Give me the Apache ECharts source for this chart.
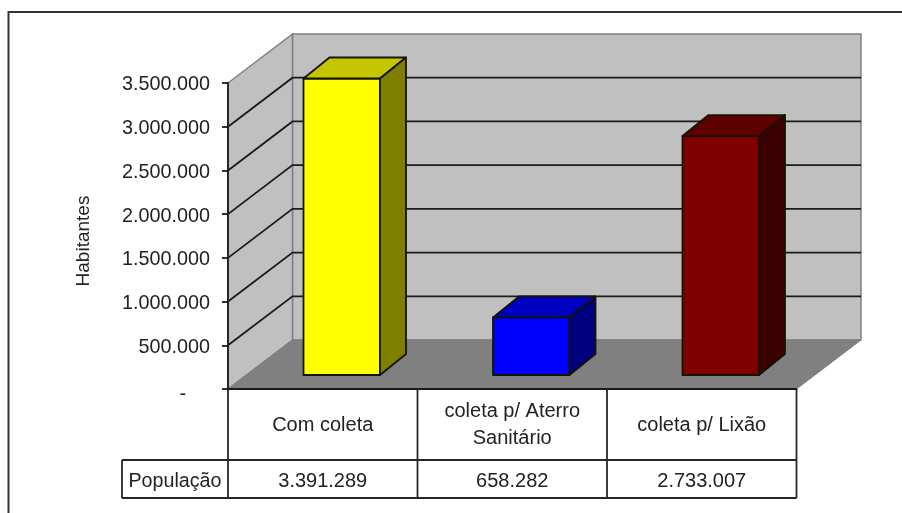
<!DOCTYPE html>
<html>
<head>
<meta charset="utf-8">
<style>html,body{margin:0;padding:0;background:#fff}#c{width:902px;height:513px}</style>
<script src="https://cdn.jsdelivr.net/npm/echarts@6/dist/echarts.min.js"></script>
</head>
<body>
<div id="c"></div>
<script>
var categories = ['Com coleta', 'coleta p/ Aterro\nSanitário', 'coleta p/ Lixão'];
var values = [3391289, 658282, 2733007];
var tableRowLabel = 'População';
var axisTitle = 'Habitantes';
var frontColors = ['#ffff00', '#0000ff', '#800000'];
var topColors = ['#c6c600', '#0000c0', '#5e0000'];
var sideColors = ['#808000', '#000080', '#3c0000'];
var tickValues = [0, 500000, 1000000, 1500000, 2000000, 2500000, 3000000, 3500000];

var FONT = '"Liberation Sans", Arial, sans-serif';
var TEXT = '#222222';
var INK = '#1a1a1a';
var FS = 20;
var DEPTH = [64.5, -49];
var GAP = [19, -14];
var BAR = [26, -21];
var BAR_W = 76.5;
var ROW1 = 71, ROW2 = 109, HEAD = 106;

function fmt(v) { return String(v).replace(/\B(?=(\d{3})+$)/g, '.'); }

function renderShell(params, api) {
  var r = params.coordSys, b = r.y + r.height, x0 = r.x, x1 = r.x + r.width;
  var dx = DEPTH[0], dy = DEPTH[1], c = [];
  c.push({ type: 'polygon', shape: { points: [[x0 + dx, r.y + dy], [x1 + dx, r.y + dy], [x1 + dx, b + dy], [x0 + dx, b + dy]] },
    style: { fill: '#c0c0c0', stroke: '#808080', lineWidth: 1.5 } });
  c.push({ type: 'polygon', shape: { points: [[x0, r.y], [x0 + dx, r.y + dy], [x0 + dx, b + dy], [x0, b]] },
    style: { fill: '#c0c0c0', stroke: '#808080', lineWidth: 1.5 } });
  c.push({ type: 'polygon', shape: { points: [[x0, b], [x0 + dx, b + dy], [x1 + dx, b + dy], [x1, b]] },
    style: { fill: '#808080', stroke: '#808080', lineWidth: 1 } });
  tickValues.forEach(function (t) {
    if (t === 0 || t === tickValues[tickValues.length - 1]) return;
    var y = api.coord([0, t])[1];
    c.push({ type: 'polyline', shape: { points: [[x0, y], [x0 + dx, y + dy], [x1 + dx, y + dy]] },
      style: { fill: 'none', stroke: INK, lineWidth: 1.8 } });
  });
  return { type: 'group', children: c };
}

function renderBar(params, api) {
  var i = api.value(0);
  var cx = api.coord([i, 0])[0] + GAP[0];
  var yb = api.coord([i, 0])[1] + GAP[1];
  var yt = api.coord([i, api.value(1)])[1] + GAP[1];
  var l = cx - BAR_W / 2, w = BAR_W, dx = BAR[0], dy = BAR[1];
  var line = { stroke: '#141400', lineWidth: 1.8, lineJoin: 'round' };
  function st(fill) { return Object.assign({ fill: fill }, line); }
  return { type: 'group', children: [
    { type: 'polygon', shape: { points: [[l, yt], [l + w, yt], [l + w, yb], [l, yb]] }, style: st(frontColors[i]) },
    { type: 'polygon', shape: { points: [[l, yt], [l + dx, yt + dy], [l + w + dx, yt + dy], [l + w, yt]] }, style: st(topColors[i]) },
    { type: 'polygon', shape: { points: [[l + w, yt], [l + w + dx, yt + dy], [l + w + dx, yb + dy], [l + w, yb]] }, style: st(sideColors[i]) }
  ] };
}

function renderTable(params, api) {
  var r = params.coordSys, b = r.y + r.height, x0 = r.x, x1 = r.x + r.width;
  var w = r.width / categories.length, c = [];
  var y1 = b + ROW1, y2 = b + ROW2;
  var ls = { stroke: '#262626', lineWidth: 1.8, fill: 'none' };
  c.push({ type: 'polyline', shape: { points: [[x0 - HEAD, y1], [x1, y1]] }, style: ls });
  c.push({ type: 'polyline', shape: { points: [[x0 - HEAD, y2], [x1, y2]] }, style: ls });
  c.push({ type: 'polyline', shape: { points: [[x0 - HEAD, y1], [x0 - HEAD, y2]] }, style: ls });
  for (var k = 0; k <= categories.length; k++) {
    c.push({ type: 'polyline', shape: { points: [[x0 + w * k, b], [x0 + w * k, y2]] }, style: ls });
  }
  c.push({ type: 'text', style: { text: tableRowLabel, x: x0 - HEAD / 2, y: (y1 + y2) / 2 + 3, align: 'center', verticalAlign: 'middle',
    font: '19.7px ' + FONT, fill: TEXT } });
  values.forEach(function (v, i) {
    c.push({ type: 'text', style: { text: fmt(v), x: x0 + w * (i + 0.5), y: (y1 + y2) / 2 + 2, align: 'center', verticalAlign: 'middle',
      font: FS + 'px ' + FONT, fill: TEXT } });
  });
  return { type: 'group', children: c };
}

var chart = echarts.init(document.getElementById('c'), null, { renderer: 'canvas' });
chart.setOption({
  animation: false,
  backgroundColor: '#ffffff',
  textStyle: { fontFamily: FONT },
  graphic: [{ type: 'polyline', silent: true, shape: { points: [[8.5, 513], [8.5, 12], [902, 12]] },
    style: { fill: 'none', stroke: '#333333', lineWidth: 2 } }],
  grid: { left: 228, top: 83, width: 568.5, height: 306, containLabel: false },
  xAxis: {
    type: 'category', data: categories, boundaryGap: true,
    axisTick: { show: false },
    axisLine: { show: true, lineStyle: { color: INK, width: 1.8 } },
    axisLabel: { color: TEXT, fontSize: FS, fontFamily: FONT, lineHeight: 27, interval: 0, margin: 36, verticalAlign: 'middle' },
    z: 5
  },
  yAxis: {
    type: 'value', min: 0, max: 3500000, interval: 500000,
    name: axisTitle, nameLocation: 'middle', nameGap: 135, nameRotate: 90,
    nameTextStyle: { color: TEXT, fontSize: 19, fontFamily: FONT, padding: [0, 10, 0, 0] },
    axisLine: { show: true, lineStyle: { color: INK, width: 1.8 } },
    axisTick: { show: true, length: 6, lineStyle: { color: INK, width: 1.8 } },
    axisLabel: { color: TEXT, fontSize: 19.8, fontFamily: FONT, margin: 18, padding: [4, 0, 0, 0],
      formatter: function (v) { return v === 0 ? '{d|-}' : fmt(v); },
      rich: { d: { color: TEXT, fontSize: 19.8, fontFamily: FONT, padding: [8, 24, 0, 0] } } },
    splitLine: { show: false },
    z: 5
  },
  series: [
    { type: 'custom', name: 'shell', data: [[0, 0]], renderItem: renderShell, z: 1, silent: true, clip: false },
    { type: 'custom', name: 'População', data: values.map(function (v, i) { return [i, v]; }),
      encode: { x: 0, y: 1 }, renderItem: renderBar, z: 2, clip: false },
    { type: 'custom', name: 'table', data: [[0, 0]], renderItem: renderTable, z: 3, silent: true, clip: false }
  ]
});
</script>
</body>
</html>
